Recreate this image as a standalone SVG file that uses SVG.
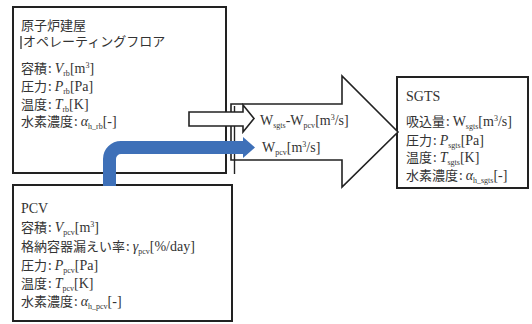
<svg xmlns="http://www.w3.org/2000/svg" width="532" height="324" viewBox="0 0 532 324">
<style>
.box{fill:#fff;stroke:#222;stroke-width:2}
.t{fill:#333;font-family:"Liberation Serif","Noto Sans CJK JP",serif;font-size:14px}
.j{font-family:"Noto Sans CJK JP",sans-serif;font-size:13px}
.v{font-family:"Liberation Serif",serif;font-style:italic;font-size:14px}
.s{font-family:"Liberation Serif",serif;font-size:8px}
.sup{font-family:"Liberation Serif",serif;font-size:8px}
.wa{fill:#fff;stroke:#222;stroke-width:1.6;stroke-linejoin:miter}
.blue{fill:none;stroke:#3E70B8;stroke-width:13}
</style>
<g id="reactor">
<rect class="box" x="13" y="7" width="213" height="166"/>
<text class="t j" x="21" y="30" style="font-size:13px">原子炉建屋</text>
<line x1="21" y1="36" x2="21" y2="49" stroke="#222" stroke-width="1.2"/>
<text class="t j" x="23" y="46" style="font-size:13px">オペレーティングフロア</text>
<text class="t" x="21" y="73"><tspan class="j">容積</tspan><tspan class="j" dx="1">:</tspan><tspan class="v" dx="3">V</tspan><tspan class="s" dy="3">rb</tspan><tspan dy="-3">[m</tspan><tspan class="sup" dy="-5">3</tspan><tspan dy="5">]</tspan></text>
<text class="t" x="21" y="91"><tspan class="j">圧力</tspan><tspan class="j" dx="1">:</tspan><tspan class="v" dx="3">P</tspan><tspan class="s" dy="3">rb</tspan><tspan dy="-3">[Pa]</tspan></text>
<text class="t" x="21" y="109"><tspan class="j">温度</tspan><tspan class="j" dx="1">:</tspan><tspan class="v" dx="3">T</tspan><tspan class="s" dy="3">rb</tspan><tspan dy="-3">[K]</tspan></text>
<text class="t" x="21" y="126"><tspan class="j">水素濃度</tspan><tspan class="j" dx="1">:</tspan><tspan class="v" dx="3">α</tspan><tspan class="s" dy="3">h_rb</tspan><tspan dy="-3">[-]</tspan></text>
</g>
<g id="pcv">
<rect class="box" x="13" y="185" width="219" height="136"/>
<text class="t" x="21" y="213">PCV</text>
<text class="t" x="21" y="232"><tspan class="j">容積</tspan><tspan class="j" dx="1">:</tspan><tspan class="v" dx="3">V</tspan><tspan class="s" dy="3">pcv</tspan><tspan dy="-3">[m</tspan><tspan class="sup" dy="-5">3</tspan><tspan dy="5">]</tspan></text>
<text class="t" x="21" y="251"><tspan class="j">格納容器漏えい率</tspan><tspan class="j" dx="1">:</tspan><tspan class="v" dx="3">γ</tspan><tspan class="s" dy="3">pcv</tspan><tspan dy="-3">[%/day]</tspan></text>
<text class="t" x="21" y="270"><tspan class="j">圧力</tspan><tspan class="j" dx="1">:</tspan><tspan class="v" dx="3">P</tspan><tspan class="s" dy="3">pcv</tspan><tspan dy="-3">[Pa]</tspan></text>
<text class="t" x="21" y="288"><tspan class="j">温度</tspan><tspan class="j" dx="1">:</tspan><tspan class="v" dx="3">T</tspan><tspan class="s" dy="3">pcv</tspan><tspan dy="-3">[K]</tspan></text>
<text class="t" x="21" y="306"><tspan class="j">水素濃度</tspan><tspan class="j" dx="1">:</tspan><tspan class="v" dx="3">α</tspan><tspan class="s" dy="3">h_pcv</tspan><tspan dy="-3">[-]</tspan></text>
</g>
<g id="sgts">
<rect class="box" x="397" y="77" width="131" height="111"/>
<text class="t" x="406" y="101">SGTS</text>
<text class="t" x="406" y="126"><tspan class="j">吸込量</tspan><tspan class="j" dx="1">:</tspan><tspan dx="3">W</tspan><tspan class="s" dy="3">sgts</tspan><tspan dy="-3">[m</tspan><tspan class="sup" dy="-5">3</tspan><tspan dy="5">/s]</tspan></text>
<text class="t" x="406" y="145"><tspan class="j">圧力</tspan><tspan class="j" dx="1">:</tspan><tspan class="v" dx="3">P</tspan><tspan class="s" dy="3">sgts</tspan><tspan dy="-3">[Pa]</tspan></text>
<text class="t" x="406" y="162"><tspan class="j">温度</tspan><tspan class="j" dx="1">:</tspan><tspan class="v" dx="3">T</tspan><tspan class="s" dy="3">sgts</tspan><tspan dy="-3">[K]</tspan></text>
<text class="t" x="406" y="180"><tspan class="j">水素濃度</tspan><tspan class="j" dx="1">:</tspan><tspan class="v" dx="3">α</tspan><tspan class="s" dy="3">h_sgts</tspan><tspan dy="-3">[-]</tspan></text>
</g>
<g id="connectors">
<polygon class="wa" points="231,104 342,104 342,76 398,132 342,187 342,160 231,160"/>
<line x1="234.5" y1="106" x2="234.5" y2="174" stroke="#222" stroke-width="1.4"/>
<polygon class="wa" points="189,112 243,112 243,105 254,118.5 243,132 243,126 189,126"/>
<path class="blue" d="M109.5,186 V159 A11.5,11.5 0 0 1 121,147.5 H244"/>
<polygon points="243,137 255,147.5 243,158" fill="#3E70B8"/>
<text class="t" x="260" y="125">W<tspan class="s" dy="3">sgts</tspan><tspan dy="-3">-W</tspan><tspan class="s" dy="3">pcv</tspan><tspan dy="-3">[m</tspan><tspan class="sup" dy="-5">3</tspan><tspan dy="5">/s]</tspan></text>
<text class="t" x="262" y="152">W<tspan class="s" dy="3">pcv</tspan><tspan dy="-3">[m</tspan><tspan class="sup" dy="-5">3</tspan><tspan dy="5">/s]</tspan></text>
</g>
</svg>
